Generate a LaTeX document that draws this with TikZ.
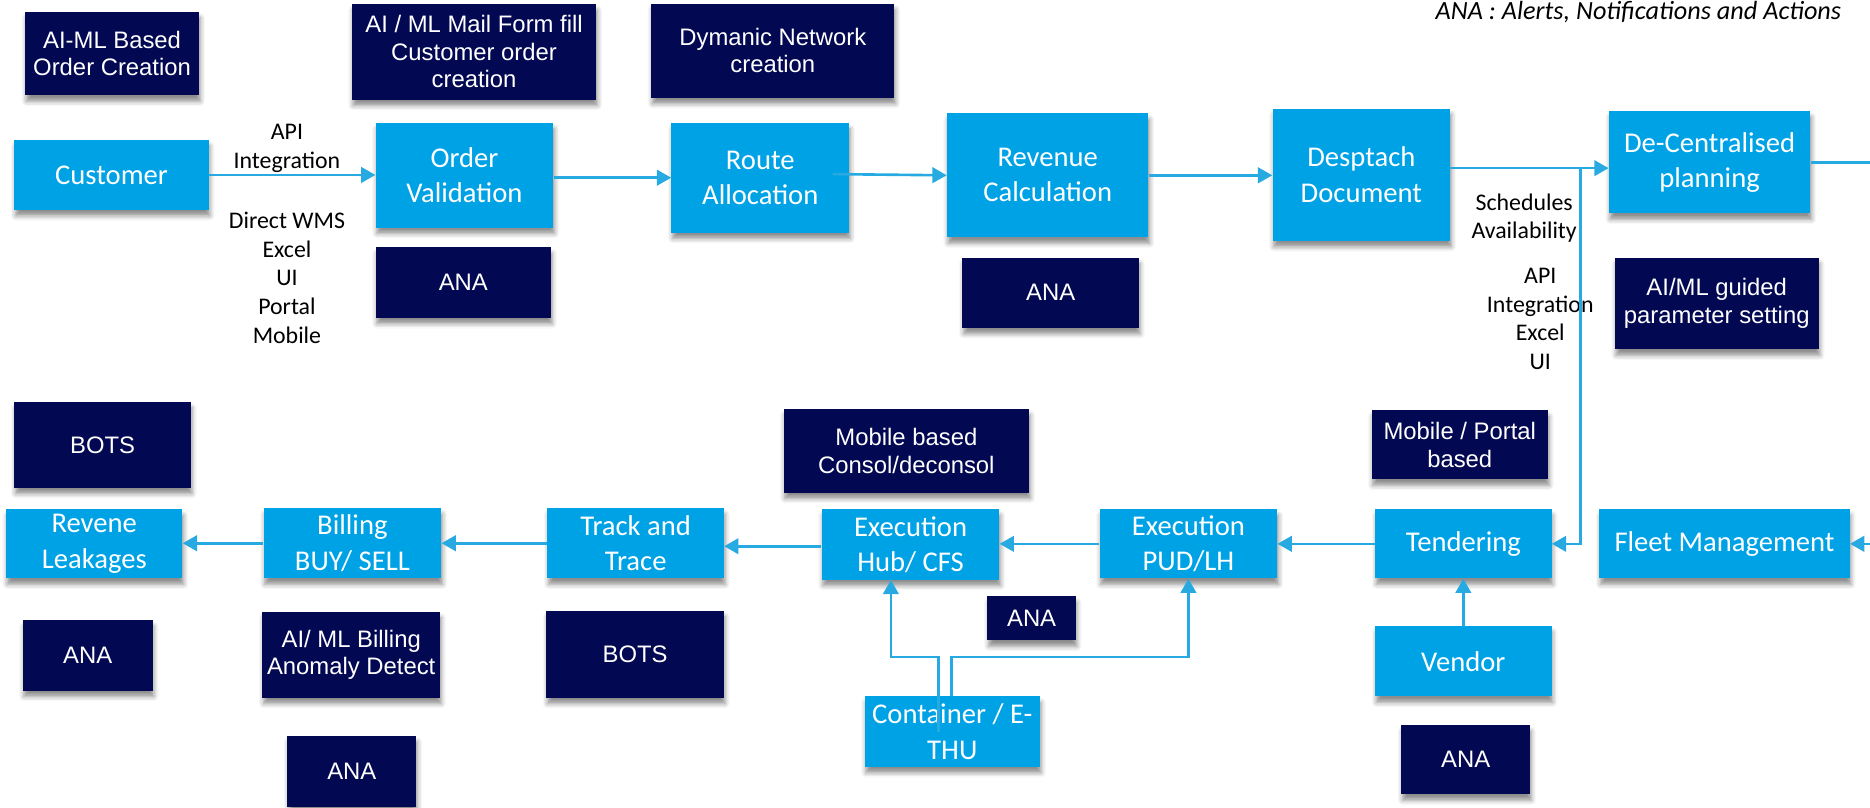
\documentclass[tikz,border=0pt]{standalone}
\usepackage{fontspec}
\setmainfont{Carlito}
\newfontfamily\arialf{Liberation Sans}
\usetikzlibrary{arrows.meta,shadows.blur,calc}
\definecolor{boxblue}{RGB}{0,162,230}
\definecolor{navy}{RGB}{2,8,82}
\definecolor{arrblue}{RGB}{38,170,225}
\begin{document}
\begin{tikzpicture}[x=1pt,y=-1pt,
  shad/.style={blur shadow={shadow xshift=1pt, shadow yshift=-5pt, shadow blur radius=4pt, shadow opacity=45}},
  bluebox/.style={shad, fill=boxblue, text=white, align=center, inner sep=0pt, font=\fontsize{24}{29.5}\selectfont},
  navybox/.style={shad, fill=navy, text=white, align=center, inner sep=0pt, font=\arialf\fontsize{20}{23}\selectfont},
  lbl/.style={align=center, inner sep=0pt, font=\fontsize{20}{24}\selectfont},
  conn/.style={draw=arrblue, line width=2.2pt},
  arr/.style={conn, -{Triangle[length=12pt,width=13pt]}}
]
\useasboundingbox (0,0) rectangle (1568,677.5);

% legend
\node[anchor=base east, inner sep=0pt, font=\itshape\fontsize{22}{26}\selectfont] (legend) at (1544,16.5) {ANA : Alerts, Notifications and Actions};

% navy boxes
\node[navybox, minimum width=146pt, minimum height=70pt] (aimlorder) at (94,45) {AI-ML Based\\Order Creation};
\node[navybox, minimum width=205pt, minimum height=80pt] (aimlmail) at (397.5,43.5) {AI / ML Mail Form fill\\Customer order\\creation};
\node[navybox, minimum width=204pt, minimum height=79pt] (dynnet) at (648,42.5) {Dymanic Network\\creation};
\node[navybox, minimum width=147pt, minimum height=59pt] (anaA) at (388.5,237) {ANA};
\node[navybox, minimum width=148pt, minimum height=59pt] (anaB) at (881,245.5) {ANA};
\node[navybox, minimum width=171pt, minimum height=77pt] (aiguided) at (1439.5,254.5) {AI/ML guided\\parameter setting};
\node[navybox, minimum width=148pt, minimum height=72pt] (botsA) at (86,373) {BOTS};
\node[navybox, minimum width=206pt, minimum height=70pt] (consol) at (760,378) {Mobile based\\Consol/deconsol};
\node[navybox, minimum width=148pt, minimum height=58pt] (mobport) at (1224,373) {Mobile / Portal\\based};
\node[navybox, minimum width=109pt, minimum height=59pt] (anaC) at (73.5,549.5) {ANA};
\node[navybox, minimum width=149pt, minimum height=72pt] (anomaly) at (294.5,549) {AI/ ML Billing\\Anomaly Detect};
\node[navybox, minimum width=108pt, minimum height=60pt] (anaD) at (295,647) {ANA};
\node[navybox, minimum width=149pt, minimum height=73pt] (botsB) at (532.5,548.5) {BOTS};
\node[navybox, minimum width=74pt, minimum height=37pt] (anaE) at (865,518.5) {ANA};
\node[navybox, minimum width=108pt, minimum height=58pt] (anaF) at (1229,637) {ANA};

% blue boxes
\node[bluebox, minimum width=163pt, minimum height=58.6pt] (customer) at (93.5,146.7) {Customer};
\node[bluebox, minimum width=149pt, minimum height=88pt] (orderval) at (389.5,146.8) {Order\\Validation};
\node[bluebox, minimum width=149pt, minimum height=92pt] (route) at (637.5,149) {Route\\Allocation};
\node[bluebox, minimum width=169pt, minimum height=104pt] (revenue) at (878.5,147) {Revenue\\Calculation};
\node[bluebox, minimum width=149pt, minimum height=111pt] (desp) at (1141.5,146.5) {Desptach\\Document};
\node[bluebox, minimum width=169pt, minimum height=86pt] (decent) at (1433.5,136) {De-Centralised\\planning};
\node[bluebox, minimum width=210pt, minimum height=58pt] (fleet) at (1446,456) {Fleet Management};
\node[bluebox, minimum width=148pt, minimum height=58pt] (tender) at (1227,456) {Tendering};
\node[bluebox, minimum width=148pt, minimum height=59pt] (vendor) at (1227,554.5) {Vendor};
\node[bluebox, minimum width=149pt, minimum height=58pt] (pud) at (996.5,456) {Execution\\PUD/LH};
\node[bluebox, minimum width=149pt, minimum height=59pt] (hub) at (763.5,456.5) {Execution\\Hub/ CFS};
\node[bluebox, minimum width=147pt, minimum height=59pt] (container) at (798.5,613.5) {Container / E-\\THU};
\node[bluebox, minimum width=148pt, minimum height=59pt] (track) at (533,455.5) {Track and\\Trace};
\node[bluebox, minimum width=149pt, minimum height=59pt] (billing) at (295.5,455.5) {Billing\\BUY/ SELL};
\node[bluebox, minimum width=148pt, minimum height=58pt] (revene) at (79,456) {Revene\\Leakages};

% labels
\node[lbl] (lapi) at (240.6,124.5) {API\\Integration};
\node[lbl] (lchan) at (240.6,232.8) {Direct WMS\\Excel\\UI\\Portal\\Mobile};
\node[lbl] (lsched) at (1278,183) {Schedules\\Availability};
\node[lbl] (lapi2) at (1291.5,267.5) {API\\Integration\\Excel\\UI};

% helper coordinates
\coordinate (j1) at (1325,141);
\coordinate (redgeA) at (1568,137);
\coordinate (redgeB) at (1568,456);
\coordinate (bend) at (0,551);
\coordinate (ct1) at (787,614);

% top row connectors
\draw[arr] (customer.east) -- (customer.east -| orderval.west);
\draw[arr] (orderval.east |- route.west) -- (route.west);
\draw[arr] ($(route.east)+(-14,-3)$) -- (revenue.west);
\draw[arr] (revenue.east) -- (revenue.east -| desp.west);
\draw[arr] ($(desp.east)+(0,-5.5)$) -- ($(decent.west)+(0,5)$);
\draw[conn] (decent.east) -- (decent.east -| redgeA);
\draw[arr] (j1) |- (tender.east);
\draw[arr] (redgeB) -- (fleet.east);

% bottom row connectors
\draw[arr] (tender.west) -- (pud.east);
\draw[arr] (pud.west) -- (pud.west -| hub.east);
\draw[arr] ($(hub.west)+(0,1.5)$) -- ($(track.east)+(0,2.5)$);
\draw[arr] (track.west) -- (billing.east);
\draw[arr] (billing.west) -- (billing.west -| revene.east);
\draw[arr] (vendor.north) -- (tender.south);
\draw[arr] (ct1) -- (ct1 |- bend) -| ([xshift=-16.5pt]hub.south);
\draw[arr] ([xshift=-0.5pt]container.north) -- ([xshift=-0.5pt]container.north |- bend) -| (pud.south);
\end{tikzpicture}
\end{document}
